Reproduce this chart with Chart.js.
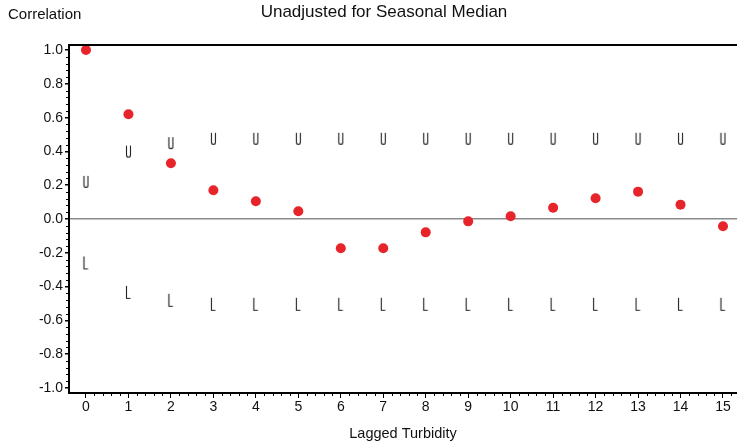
<!DOCTYPE html>
<html>
<head>
<meta charset="utf-8">
<script src="https://cdn.jsdelivr.net/npm/chart.js@4/dist/chart.umd.min.js"></script>
<style>
  body { margin: 0; background: #fff; }
  canvas { display: block; }
</style>
</head>
<body>
<canvas id="acf" width="737" height="444"></canvas>
<script>
// lags and autocorrelation
const lags = [0, 1, 2, 3, 4, 5, 6, 7, 8, 9, 10, 11, 12, 13, 14, 15];
const correlation = [1.0, 0.62, 0.33, 0.17, 0.105, 0.046, -0.173, -0.173, -0.079, -0.014, 0.016, 0.067, 0.123, 0.162, 0.085, -0.043];
const upperBound = [0.217, 0.396, 0.446, 0.472, 0.472, 0.472, 0.472, 0.472, 0.472, 0.472, 0.472, 0.472, 0.472, 0.472, 0.472, 0.472];
const lowerBound = [-0.26, -0.434, -0.481, -0.505, -0.505, -0.505, -0.505, -0.505, -0.505, -0.505, -0.505, -0.505, -0.505, -0.505, -0.505, -0.505];
const xTickLabels = ['0', '1', '2', '3', '4', '5', '6', '7', '8', '9', '10', '11', '12', '13', '14', '15'];

const FONT = '"Liberation Sans", Arial, sans-serif';

// small "U" / "L" glyph markers
function glyph(letter) {
  const c = document.createElement('canvas');
  c.width = 7; c.height = 15;
  const g = c.getContext('2d');
  g.strokeStyle = '#222';
  g.lineWidth = 1.1;
  g.beginPath();
  if (letter === 'U') {
    g.moveTo(1.5, 1);
    g.lineTo(1.5, 10.5);
    g.arc(3.5, 10.5, 2, Math.PI, 0, true);
    g.lineTo(5.5, 1);
  } else {
    g.moveTo(1.5, 1);
    g.lineTo(1.5, 13.5);
    g.lineTo(5.5, 13.5);
  }
  g.stroke();
  return c;
}

const toPts = arr => arr.map((v, i) => ({ x: lags[i], y: v }));

// minor ticks, top frame line, title texts
const decorations = {
  id: 'decorations',
  afterDraw(chart) {
    const { ctx, chartArea, scales: { x, y } } = chart;
    ctx.save();
    ctx.strokeStyle = '#000';
    ctx.lineWidth = 1;
    ctx.beginPath();
    for (let k = 0; k <= 76; k++) {
      if (k % 5 === 0) continue;
      const px = Math.round(x.getPixelForValue(k / 5)) + 0.5;
      ctx.moveTo(px, chartArea.bottom);
      ctx.lineTo(px, chartArea.bottom + 3);
    }
    for (let k = -25; k <= 25; k++) {
      if (k % 5 === 0) continue;
      const py = Math.round(y.getPixelForValue(k * 0.04)) + 0.5;
      ctx.moveTo(chartArea.left - 3, py);
      ctx.lineTo(chartArea.left, py);
    }
    ctx.stroke();

    ctx.lineWidth = 2;
    ctx.beginPath();
    ctx.moveTo(chartArea.left, chartArea.top);
    ctx.lineTo(chartArea.right, chartArea.top);
    ctx.stroke();

    ctx.fillStyle = '#111';
    ctx.textBaseline = 'middle';
    ctx.textAlign = 'center';
    ctx.font = '17px ' + FONT;
    ctx.fillText('Unadjusted for Seasonal Median', 384, 12);
    ctx.textAlign = 'left';
    ctx.font = '15px ' + FONT;
    ctx.fillText('Correlation', 8, 15);
    ctx.restore();
  }
};

new Chart(document.getElementById('acf'), {
  type: 'scatter',
  data: {
    datasets: [
      {
        label: 'Upper',
        data: toPts(upperBound),
        pointStyle: glyph('U'),
        pointRadius: 7
      },
      {
        label: 'Lower',
        data: toPts(lowerBound),
        pointStyle: glyph('L'),
        pointRadius: 7
      },
      {
        label: 'Correlation',
        data: toPts(correlation),
        backgroundColor: '#e8242b',
        borderColor: '#e8242b',
        pointRadius: 5,
        borderWidth: 0
      }
    ]
  },
  options: {
    responsive: false,
    animation: false,
    layout: { autoPadding: false, padding: { top: 45, left: 0, right: 0, bottom: 0 } },
    plugins: { legend: { display: false }, tooltip: { enabled: false } },
    scales: {
      x: {
        type: 'linear',
        min: -0.4,
        max: 15.33,
        afterFit: s => { s.height = 51; s.paddingLeft = 0; s.paddingRight = 0; },
        border: { color: '#000', width: 2 },
        grid: { drawOnChartArea: false, drawTicks: true, tickLength: 5, tickColor: '#000' },
        ticks: {
          stepSize: 1,
          includeBounds: false,
          maxRotation: 0,
          padding: 1,
          color: '#111',
          font: { family: FONT, size: 14 },
          callback: v => xTickLabels[v] ?? ''
        },
        title: {
          display: true,
          text: 'Lagged Turbidity',
          color: '#111',
          font: { family: FONT, size: 14.5 },
          padding: { top: 0, bottom: 1 }
        }
      },
      y: {
        min: -1.03,
        max: 1.03,
        afterFit: s => { s.width = 69; s.paddingTop = 0; s.paddingBottom = 0; },
        border: { color: '#000', width: 2 },
        grid: {
          drawTicks: true,
          tickLength: 4,
          tickColor: '#000',
          lineWidth: 1.5,
          color: c => (c.tick && Math.abs(c.tick.value) < 1e-9 ? '#8a8a8a' : 'rgba(0,0,0,0)')
        },
        ticks: {
          stepSize: 0.2,
          includeBounds: false,
          padding: 2,
          color: '#111',
          font: { family: FONT, size: 14 },
          callback: v => (Math.abs(v) < 1e-9 ? 0 : v).toFixed(1)
        }
      }
    }
  },
  plugins: [decorations]
});
</script>
</body>
</html>
